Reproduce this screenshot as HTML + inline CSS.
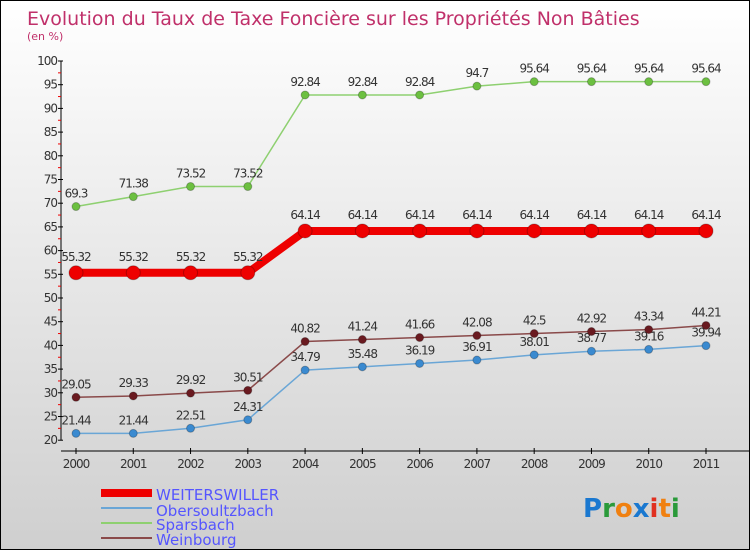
<!DOCTYPE html>
<html><head><meta charset="utf-8"><style>
body{margin:0}
#wrap{width:748px;height:548px;border:1px solid #000;background:linear-gradient(#fff,#cfcfcf);position:relative;overflow:hidden;font-family:"DejaVu Sans","Liberation Sans",sans-serif}
</style></head><body>
<div id="wrap">
<svg id="svg" width="748" height="548">
<text x="26" y="24" font-size="19" fill="#c0306a">Evolution du Taux de Taxe Foncière sur les Propriétés Non Bâties</text>
<text x="26" y="39" font-size="11" fill="#c0306a">(en %)</text>
<g id="axes"></g><g id="series"></g>
<g>
<rect x="100" y="488" width="51" height="8" fill="#e00"/>
<text x="155" y="499" font-size="15" fill="#55f">WEITERSWILLER</text>
<line x1="100" y1="507" x2="151" y2="507" stroke="#6aa6d6" stroke-width="2"/>
<text x="155" y="515" font-size="15" fill="#55f">Obersoultzbach</text>
<line x1="100" y1="522" x2="151" y2="522" stroke="#8ed070" stroke-width="2"/>
<text x="155" y="529" font-size="15" fill="#55f">Sparsbach</text>
<line x1="100" y1="537" x2="151" y2="537" stroke="#8a4a4a" stroke-width="2"/>
<text x="155" y="544" font-size="15" fill="#55f">Weinbourg</text>
</g>
<text x="582" y="516" font-size="26" font-weight="bold"><tspan fill="#1a78d0">P</tspan><tspan fill="#2a9a3a">r</tspan><tspan fill="#f08010">o</tspan><tspan fill="#1a78d0">x</tspan><tspan fill="#e03020">i</tspan><tspan fill="#f08010">t</tspan><tspan fill="#2a9a3a">i</tspan></text>
</svg></div>
<script>
const years=[2000,2001,2002,2003,2004,2005,2006,2007,2008,2009,2010,2011];
const weiterswiller=[55.32,55.32,55.32,55.32,64.14,64.14,64.14,64.14,64.14,64.14,64.14,64.14];
const obersoultzbach=[21.44,21.44,22.51,24.31,34.79,35.48,36.19,36.91,38.01,38.77,39.16,39.94];
const sparsbach=[69.3,71.38,73.52,73.52,92.84,92.84,92.84,94.7,95.64,95.64,95.64,95.64];
const weinbourg=[29.05,29.33,29.92,30.51,40.82,41.24,41.66,42.08,42.5,42.92,43.34,44.21];
const yTicks=[20,25,30,35,40,45,50,55,60,65,70,75,80,85,90,95,100];
const NS="http://www.w3.org/2000/svg";
const xs=i=>75+i*(705-75)/11, ys=v=>60+(100-v)*4.74;
function mk(t,a,p){const e=document.createElementNS(NS,t);for(const k in a)e.setAttribute(k,a[k]);p.appendChild(e);return e;}
const ax=document.getElementById('axes'),se=document.getElementById('series');
const yl=mk('line',{x1:60,y1:ys(100),x2:60,y2:ys(20),stroke:'#000'},ax);

yTicks.forEach(v=>{mk('line',{x1:57,y1:ys(v),x2:62,y2:ys(v),stroke:'#000'},ax);
 if(v<100)mk('line',{x1:57,y1:ys(v+2.5),x2:60,y2:ys(v+2.5),stroke:'#e00'},ax);
 const t=mk('text',{x:56,y:ys(v)+4,'font-size':12,'text-anchor':'end',fill:'#333','letter-spacing':'-1'},ax);t.textContent=v;
 });
const xl=mk('line',{x1:60,y1:450,x2:748,y2:450,stroke:'#000'},ax);

years.forEach((y,i)=>{mk('line',{x1:xs(i),y1:447,x2:xs(i),y2:453,stroke:'#000'},ax);
 const t=mk('text',{x:xs(i),y:467,'font-size':12,'text-anchor':'middle',fill:'#333','letter-spacing':'-1'},ax);t.textContent=y;
 });
function draw(vals,name,color,dot,w,r){
 const g=mk('g',{},se);
 const pl=mk('polyline',{points:vals.map((v,i)=>xs(i)+','+ys(v)).join(' '),fill:'none',stroke:color,'stroke-width':w},g);
 
 vals.forEach((v,i)=>{const c=mk('circle',{cx:xs(i),cy:ys(v),r:r,fill:dot,stroke:'rgba(0,0,0,0.25)'},g);
  
  const t=mk('text',{x:xs(i),y:ys(v)-r-5,'font-size':12,'text-anchor':'middle',fill:'#333','letter-spacing':'-1'},g);t.textContent=v;
  });
}
draw(obersoultzbach,'obersoultzbach','#6aa6d6','#3a8ad0',1.5,4);
draw(weinbourg,'weinbourg','#8a4a4a','#6a1a20',1.5,4);
draw(sparsbach,'sparsbach','#8ed070','#6cc040',1.5,4);
draw(weiterswiller,'weiterswiller','#e00','#e00',8,7);
</script></body></html>
